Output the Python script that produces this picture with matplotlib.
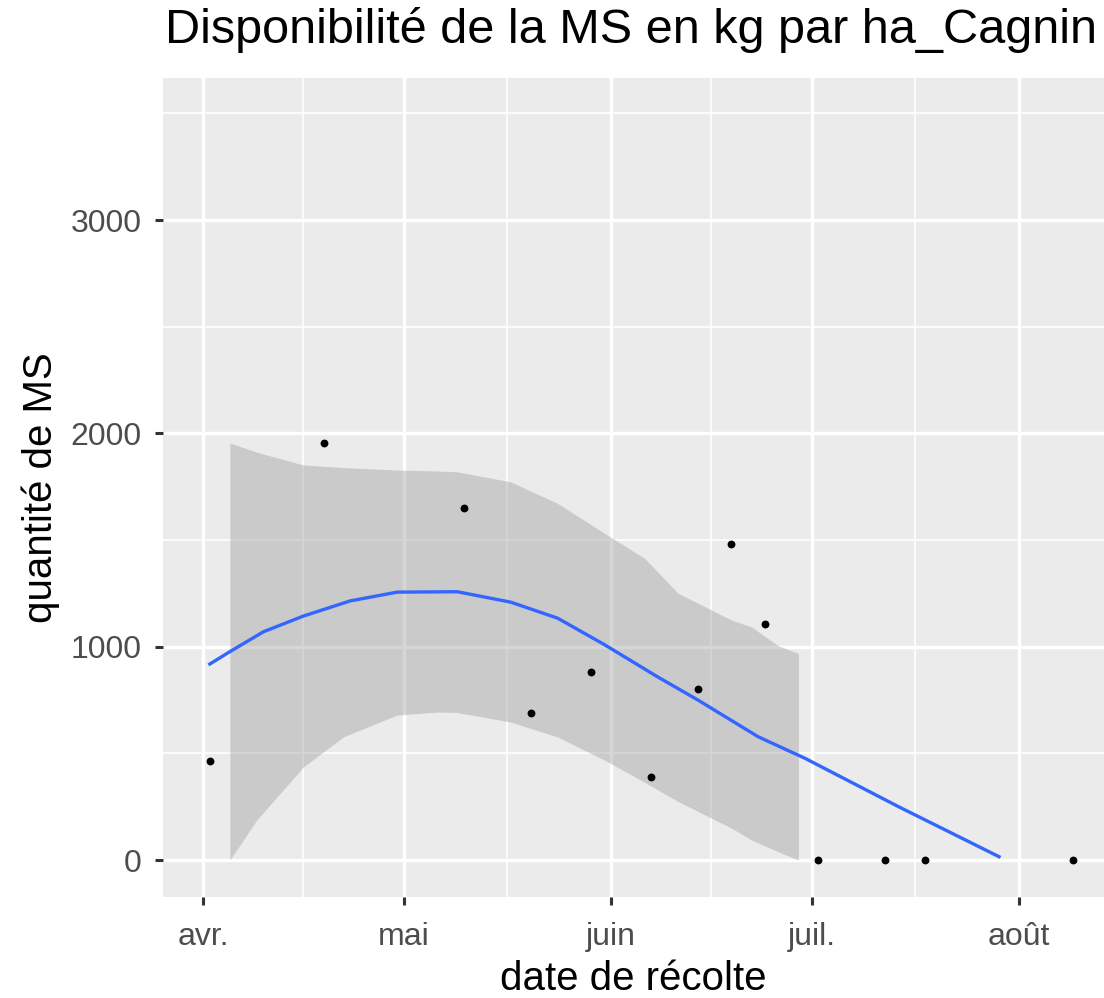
import matplotlib
matplotlib.use("Agg")
import matplotlib.pyplot as plt
import pandas as pd

plt.rcParams['font.family'] = ['Liberation Sans', 'DejaVu Sans']

# Observed points
point_dates = ["2019-04-02", "2019-04-19", "2019-05-10", "2019-05-20", "2019-05-29",
               "2019-06-07", "2019-06-14", "2019-06-19", "2019-06-24", "2019-07-02",
               "2019-07-12", "2019-07-18", "2019-08-09"]
point_values = [464, 1953, 1649, 688, 883, 391, 802, 1480, 1105, 0, 0, 0, 0]

# Smoothed curve
smooth_dates = ["2019-04-02", "2019-04-05", "2019-04-10", "2019-04-16", "2019-04-23",
                "2019-04-30", "2019-05-09", "2019-05-17", "2019-05-24", "2019-05-31",
                "2019-06-08", "2019-06-14", "2019-06-23", "2019-06-30", "2019-07-14",
                "2019-07-29"]
smooth_values = [919, 977, 1070, 1144, 1215, 1256, 1258, 1209, 1134, 1010, 858,
                 750, 578, 477, 250, 16]

# Confidence band
band_dates = ["2019-04-05", "2019-04-09", "2019-04-16", "2019-04-22", "2019-04-30",
              "2019-05-06", "2019-05-09", "2019-05-17", "2019-05-24", "2019-05-31",
              "2019-06-06", "2019-06-11", "2019-06-19", "2019-06-22", "2019-06-26",
              "2019-06-29"]
band_lower = [0, 187, 437, 578, 680, 694, 692, 647, 577, 469, 365, 275, 150, 94, 39, 0]
band_upper = [1955, 1912, 1852, 1840, 1828, 1824, 1820, 1773, 1672, 1532, 1415, 1251,
              1125, 1093, 1005, 969]

x_tick_dates = ["2019-04-01", "2019-05-01", "2019-06-01", "2019-07-01", "2019-08-01"]
x_tick_labels = ["avr.", "mai", "juin", "juil.", "août"]
x_minor_dates = ["2019-04-16T00:00", "2019-05-16T12:00", "2019-06-16T00:00", "2019-07-16T12:00"]
y_ticks = [0, 1000, 2000, 3000]
y_minor = [500, 1500, 2500, 3500]

title = "Disponibilité de la MS en kg par ha_Cagnin"
xlabel = "date de récolte"
ylabel = "quantité de MS"

W, H = 1104, 998
fig = plt.figure(figsize=(W / 100, H / 100), dpi=100)
left, right, top, bottom = 163, 1104, 78, 897
ax = fig.add_axes([left / W, (H - bottom) / H, (right - left) / W, (bottom - top) / H])

ax.set_facecolor('#EBEBEB')
for s in ax.spines.values():
    s.set_visible(False)

pdts = pd.to_datetime(point_dates)
sd = pd.to_datetime(smooth_dates)
bd = pd.to_datetime(band_dates)

ax.fill_between(bd, band_lower, band_upper, color='#999999', alpha=0.4, linewidth=0, zorder=3)
ax.plot(sd, smooth_values, color='#3366FF', linewidth=2.4, zorder=4)
ax.scatter(pdts, point_values, s=32, color='black', zorder=5, linewidths=0)

ax.set_xticks(pd.to_datetime(x_tick_dates))
ax.set_xticklabels(x_tick_labels)
ax.set_xticks(pd.to_datetime(x_minor_dates, format='ISO8601'), minor=True)
ax.set_yticks(y_ticks)
ax.set_yticklabels([str(v) for v in y_ticks])
ax.set_yticks(y_minor, minor=True)

x0 = pd.Timestamp("2019-03-26")
ax.set_xlim(x0, x0 + pd.Timedelta(days=140.7))
ax.set_ylim(-173, 3666)

ax.grid(which='major', color='white', linewidth=2.5, zorder=1)
ax.grid(which='minor', color='white', linewidth=1.2, zorder=1)
ax.set_axisbelow(True)

ax.tick_params(which='major', length=5.8, width=2.2, color='#333333', labelsize=23,
               labelcolor='#4D4D4D')
ax.tick_params(axis='x', which='major', pad=12)
ax.tick_params(axis='y', which='major', pad=9.4)
ax.tick_params(which='minor', length=0)

fig.text((left + right) / 2 / W, (H - 990) / H, xlabel, fontsize=29, color='black',
         ha='center', va='baseline')
fig.text(52 / W, (H - 487.5) / H, ylabel, fontsize=29, color='black', rotation=90,
         rotation_mode='anchor', ha='center', va='baseline')
fig.text(165 / W, (H - 43) / H, title, fontsize=35, color='black', ha='left', va='baseline')

fig.savefig("out.png", dpi=100, facecolor='white')
